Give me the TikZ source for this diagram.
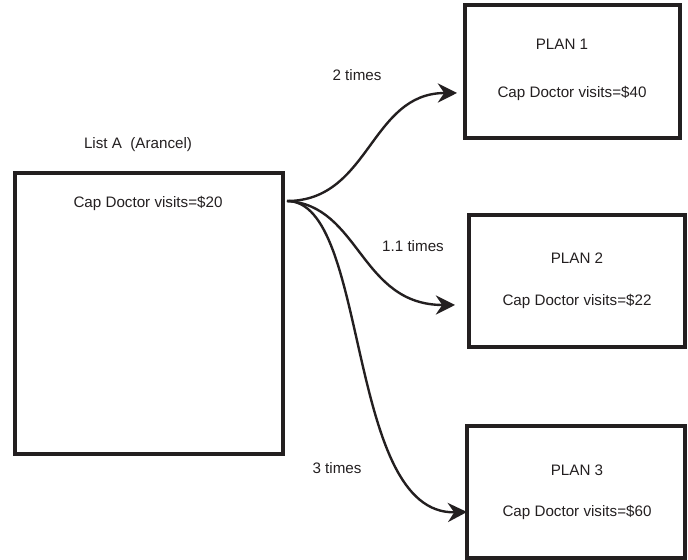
\documentclass[tikz,border=0pt]{standalone}
\usepackage{fontspec}
\setmainfont{Liberation Sans}
\usetikzlibrary{arrows.meta}
\definecolor{ink}{RGB}{35,31,32}
\begin{document}
\begin{tikzpicture}
	\tikzstyle{box} = [draw=ink, line width=2.2pt, inner sep=0, outer sep=0]
	\tikzstyle{txt} = [inner sep=0, text=ink, font=\fontsize{10.8}{13}\selectfont]
	\tikzstyle{flow} = [draw=ink, line width=1.7pt, -{Stealth[length=4.8mm,width=4.8mm,inset=1.6mm]}]
	\useasboundingbox (0,0) rectangle (17.2,14);
	% boxes
	\node [box, minimum width=6.7cm, minimum height=7.025cm] (listA) at (3.725,6.1625) {};
	\node [box, minimum width=5.375cm, minimum height=3.325cm] (plan1) at (14.3125,12.2125) {};
	\node [box, minimum width=5.4cm, minimum height=3.3cm] (plan2) at (14.425,6.975) {};
	\node [box, minimum width=5.45cm, minimum height=3.3cm] (plan3) at (14.4,1.7) {};
	% texts
	\node [txt] (listAtitle) at (3.45,10.375) {List A\ \ (Arancel)};
	\node [txt] (listAcap) at (3.7,8.925) {Cap Doctor visits=\$20};
	\node [txt] (plan1title) at (14.05,12.9) {PLAN 1};
	\node [txt] (plan1cap) at (14.3,11.675) {Cap Doctor visits=\$40};
	\node [txt] (plan2title) at (14.425,7.55) {PLAN 2};
	\node [txt] (plan2cap) at (14.425,6.475) {Cap Doctor visits=\$22};
	\node [txt] (plan3title) at (14.425,2.25) {PLAN 3};
	\node [txt] (plan3cap) at (14.425,1.2) {Cap Doctor visits=\$60};
	\node [txt] (lbl1) at (8.925,12.125) {2 times};
	\node [txt] (lbl2) at (10.325,7.85) {1.1 times};
	\node [txt] (lbl3) at (8.425,2.3) {3 times};
	% arrows
	\coordinate (src) at (7.175,8.975);
	\coordinate (tip1) at (11.425,11.675);
	\coordinate (tip2) at (11.375,6.375);
	\coordinate (tip3) at (11.675,1.2);
	\draw [flow] (src) .. controls (9.25,8.975) and (9.25,11.675) .. (tip1);
	\draw [flow] (src) .. controls (9.0,8.875) and (9.0,6.375) .. (tip2);
	\draw [flow] (src) .. controls (9.25,8.975) and (8.625,1.125) .. (tip3);
\end{tikzpicture}
\end{document}
